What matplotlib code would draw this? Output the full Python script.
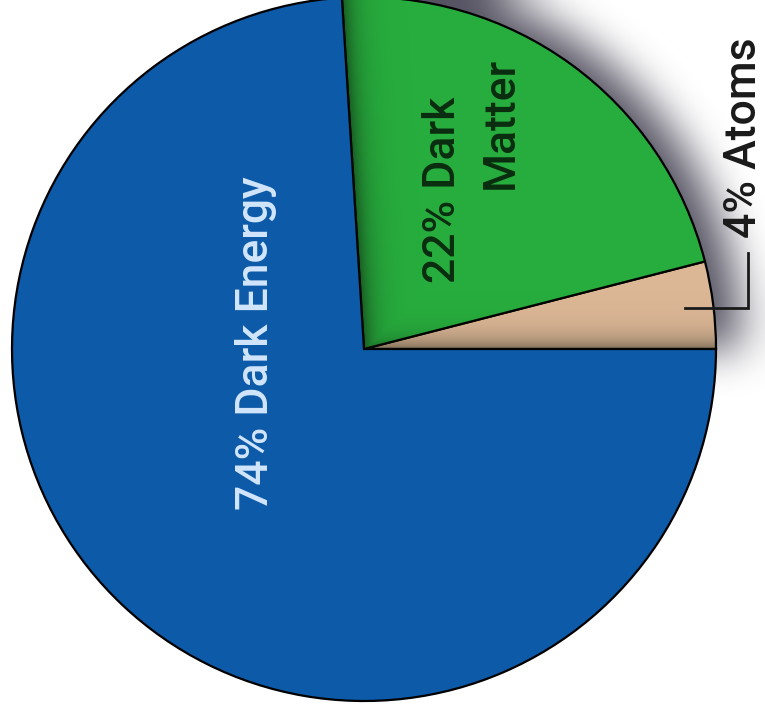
import numpy as np
import matplotlib
matplotlib.use("Agg")
import matplotlib.pyplot as plt

# Composition of the universe
categories = ["Atoms", "Dark Matter", "Dark Energy"]
shares = [4, 22, 74]
slice_labels = ["4% Atoms", "22% Dark", "Matter", "74% Dark Energy"]
slice_colors = ["#dcb796", "#27ad3d", "#0c5aa8"]

W, H = 765, 715
fig = plt.figure(figsize=(W / 100, H / 100), dpi=100)
ax = fig.add_axes([0, 0, 1, 1])

cx, cy, R = 364, 366, 352

wedges, _ = ax.pie(
    shares, colors=slice_colors, startangle=0, counterclock=True,
    center=(cx, cy), radius=R,
    wedgeprops=dict(edgecolor="black", linewidth=1.6),
)
ax.set_xlim(0, W)
ax.set_ylim(0, H)
ax.set_aspect("equal")
ax.axis("off")

# wedge boundary angles (degrees)
bounds = np.cumsum([0] + shares) / sum(shares) * 360.0
a_dm_end = bounds[2]

# pixel grid in data coordinates, row 0 at the top
xs = np.arange(W) + 0.5
ys = H - (np.arange(H) + 0.5)
X, Y = np.meshgrid(xs, ys)


def piece_mask(ox=0.0, oy=0.0, grow=0.0):
    dx = X - cx - ox
    dy = Y - cy - oy
    rr = np.hypot(dx, dy)
    ang = np.degrees(np.arctan2(dy, dx)) % 360
    return ((rr <= R + grow) & (ang <= a_dm_end)).astype(float)


def box_blur(img, k):
    out = img
    for axis in (0, 1):
        pad = [(0, 0), (0, 0)]
        pad[axis] = (k + 1, k)
        p = np.pad(out, pad, mode="edge")
        c = np.cumsum(p, axis=axis)
        if axis == 0:
            out = (c[2 * k + 1:, :] - c[:-2 * k - 1, :]) / (2 * k + 1)
        else:
            out = (c[:, 2 * k + 1:] - c[:, :-2 * k - 1]) / (2 * k + 1)
    return out


# soft drop shadow behind the raised atoms + dark matter piece
sh = piece_mask(8, 0, grow=18)
for _ in range(3):
    sh = box_blur(sh, 20)
shadow = np.zeros((H, W, 4))
shadow[..., :3] = (0.30, 0.29, 0.35)
shadow[..., 3] = np.clip(0.95 * sh, 0, 1)
ax.imshow(shadow, extent=(0, W, 0, H), origin="upper", zorder=0,
          interpolation="bilinear")

# inner shading along the edges that border dark energy
inside = piece_mask()
px, py = X - cx, Y - cy
t = np.radians(a_dm_end)
d_left = np.abs(px * np.sin(t) - py * np.cos(t))
d_bottom = np.abs(py)
shade_a = np.maximum(0.55 * np.exp(-d_left / 13.0), 0.45 * np.exp(-d_bottom / 12.0))
inner = np.zeros((H, W, 4))
inner[..., :3] = (0.05, 0.08, 0.05)
inner[..., 3] = shade_a * inside
ax.imshow(inner, extent=(0, W, 0, H), origin="upper", zorder=1.5,
          interpolation="bilinear")

font = "Roboto"
fs = 32
txt = dict(rotation=90, rotation_mode="anchor", fontsize=fs, family=font,
           fontweight="medium", zorder=3)

ax.text(268, 371.5, slice_labels[3], ha="center", va="baseline",
        color="#d2e6fc", **txt)
ax.text(455, 525.5, slice_labels[1], ha="center", va="baseline",
        color="#0a2d10", **txt)
ax.text(513, 592.5, slice_labels[2], ha="center", va="baseline",
        color="#0a2d10", **txt)

# atoms callout with an elbow leader
tx, t_bottom = 748, 462
mid = np.radians((bounds[0] + bounds[1]) / 2)
sx = cx + 0.92 * R * np.cos(mid)
sy = cy + 0.92 * R * np.sin(mid)
ax.plot([sx, tx, tx], [sy, sy, t_bottom], color="#1a1a1a", lw=2,
        solid_joinstyle="miter", zorder=3)
ax.text(756, 477, slice_labels[0], ha="left", va="baseline",
        color="#1a1a1a", **txt)

fig.savefig("out.png", dpi=100, facecolor="white")
